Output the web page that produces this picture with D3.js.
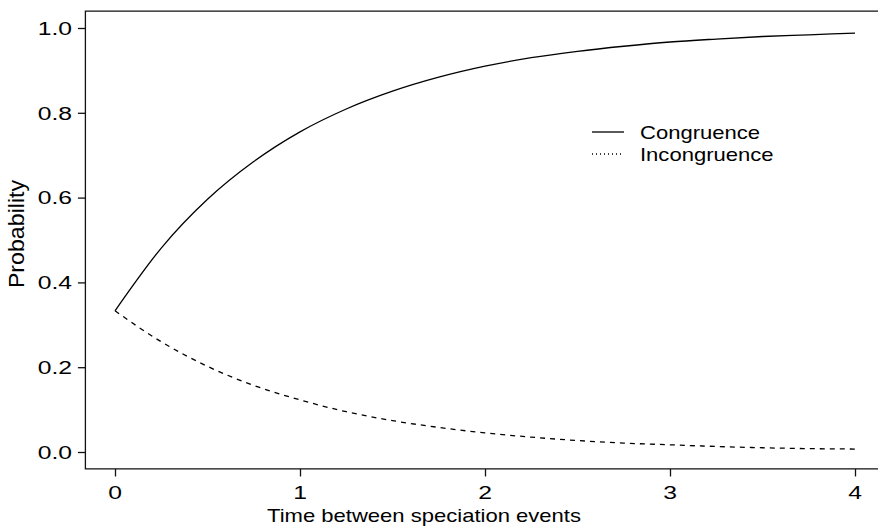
<!DOCTYPE html>
<html>
<head>
<meta charset="utf-8">
<script src="https://cdn.jsdelivr.net/npm/d3@7"></script>
<style>
  html, body { margin: 0; padding: 0; background: #fff; }
  svg { display: block; }
  text { font-family: "Liberation Sans", Arial, Helvetica, sans-serif; fill: #000; }
</style>
</head>
<body>
<svg id="chart" width="878" height="528"></svg>
<script>
// ---- data ----
const times = [0, 0.25, 0.5, 0.75, 1, 1.25, 1.5, 1.75, 2, 2.25, 2.5, 2.75, 3, 3.25, 3.5, 3.75, 4];
const congruence = [0.333, 0.481, 0.596, 0.685, 0.755, 0.809, 0.851, 0.884, 0.910, 0.930, 0.945, 0.957, 0.967, 0.974, 0.980, 0.984, 0.988];
const incongruence = [0.333, 0.260, 0.202, 0.157, 0.123, 0.095, 0.074, 0.058, 0.045, 0.035, 0.027, 0.021, 0.017, 0.013, 0.010, 0.008, 0.007];
const xTicks = [0, 1, 2, 3, 4];
const yTicks = [0, 0.2, 0.4, 0.6, 0.8, 1.0];
const seriesNames = ["Congruence", "Incongruence"];
const xTitle = "Time between speciation events";
const yTitle = "Probability";

// ---- layout ----
const svg = d3.select("#chart");
const FS = 19;          // font size (vertical)
const SX = 1.16;        // horizontal stretch of glyphs in the reference
const SXT = 1.3;        // stretch for tick labels

const x = d3.scaleLinear().domain([0, 4]).range([115, 855]);
const y = d3.scaleLinear().domain([0, 1]).range([452, 28]);
const x0 = x(-0.16);
const y0 = y(-0.04), y1 = y(1.04);

// frame (box) — right side lies beyond the visible area
svg.append("path")
  .attr("d", `M910,${y1}H${x0}V${y0}H910`)
  .attr("fill", "none").attr("stroke", "#111").attr("stroke-width", 1.3);

// y axis ticks
const yAxis = d3.axisLeft(y).tickValues(yTicks).tickSize(7.5).tickFormat(d3.format(".1f"));
const gy = svg.append("g").attr("transform", `translate(${x0},0)`).call(yAxis);
gy.select(".domain").remove();
gy.selectAll(".tick line").attr("stroke", "#111").attr("stroke-width", 1.3);
gy.selectAll(".tick text").remove();
yTicks.forEach(v => {
  svg.append("text")
    .attr("transform", `translate(72,${y(v)}) scale(${SXT},1)`)
    .attr("text-anchor", "end")
    .attr("dy", "0.36em")
    .attr("font-size", FS)
    .text(d3.format(".1f")(v));
});

// x axis ticks
const xAxis = d3.axisBottom(x).tickValues(xTicks).tickSize(7.5).tickFormat(d3.format("d"));
const gx = svg.append("g").attr("transform", `translate(0,${y0})`).call(xAxis);
gx.select(".domain").remove();
gx.selectAll(".tick line").attr("stroke", "#111").attr("stroke-width", 1.3);
gx.selectAll(".tick text").remove();
xTicks.forEach(v => {
  svg.append("text")
    .attr("transform", `translate(${x(v)},499) scale(${SXT},1)`)
    .attr("text-anchor", "middle")
    .attr("font-size", FS)
    .text(v);
});

// axis titles
svg.append("text")
  .attr("transform", `translate(424,522) scale(${SX},1)`)
  .attr("text-anchor", "middle")
  .attr("font-size", FS)
  .text(xTitle);

svg.append("text")
  .attr("transform", `translate(24,234) rotate(-90) scale(1.22,${SX})`)
  .attr("text-anchor", "middle")
  .attr("font-size", FS)
  .text(yTitle);

// lines
const line = d3.line().curve(d3.curveMonotoneX);
const ptsC = times.map((t, i) => [x(t), y(congruence[i])]);
const ptsI = times.map((t, i) => [x(t), y(incongruence[i])]);

svg.append("path").attr("d", line(ptsC))
  .attr("fill", "none").attr("stroke", "#000").attr("stroke-width", 1.3);
svg.append("path").attr("d", line(ptsI))
  .attr("fill", "none").attr("stroke", "#000").attr("stroke-width", 1.3)
  .attr("stroke-dasharray", "5,5");

// legend
const legY = [132, 154];
const legDash = [null, "1,3"];
seriesNames.forEach((name, i) => {
  svg.append("line")
    .attr("x1", 592).attr("x2", 624)
    .attr("y1", legY[i]).attr("y2", legY[i])
    .attr("stroke", "#000").attr("stroke-width", 1.3)
    .attr("stroke-dasharray", legDash[i]);
  svg.append("text")
    .attr("transform", `translate(640,${legY[i]}) scale(${SX},1)`)
    .attr("dy", "0.36em")
    .attr("font-size", FS)
    .text(name);
});
</script>
</body>
</html>
